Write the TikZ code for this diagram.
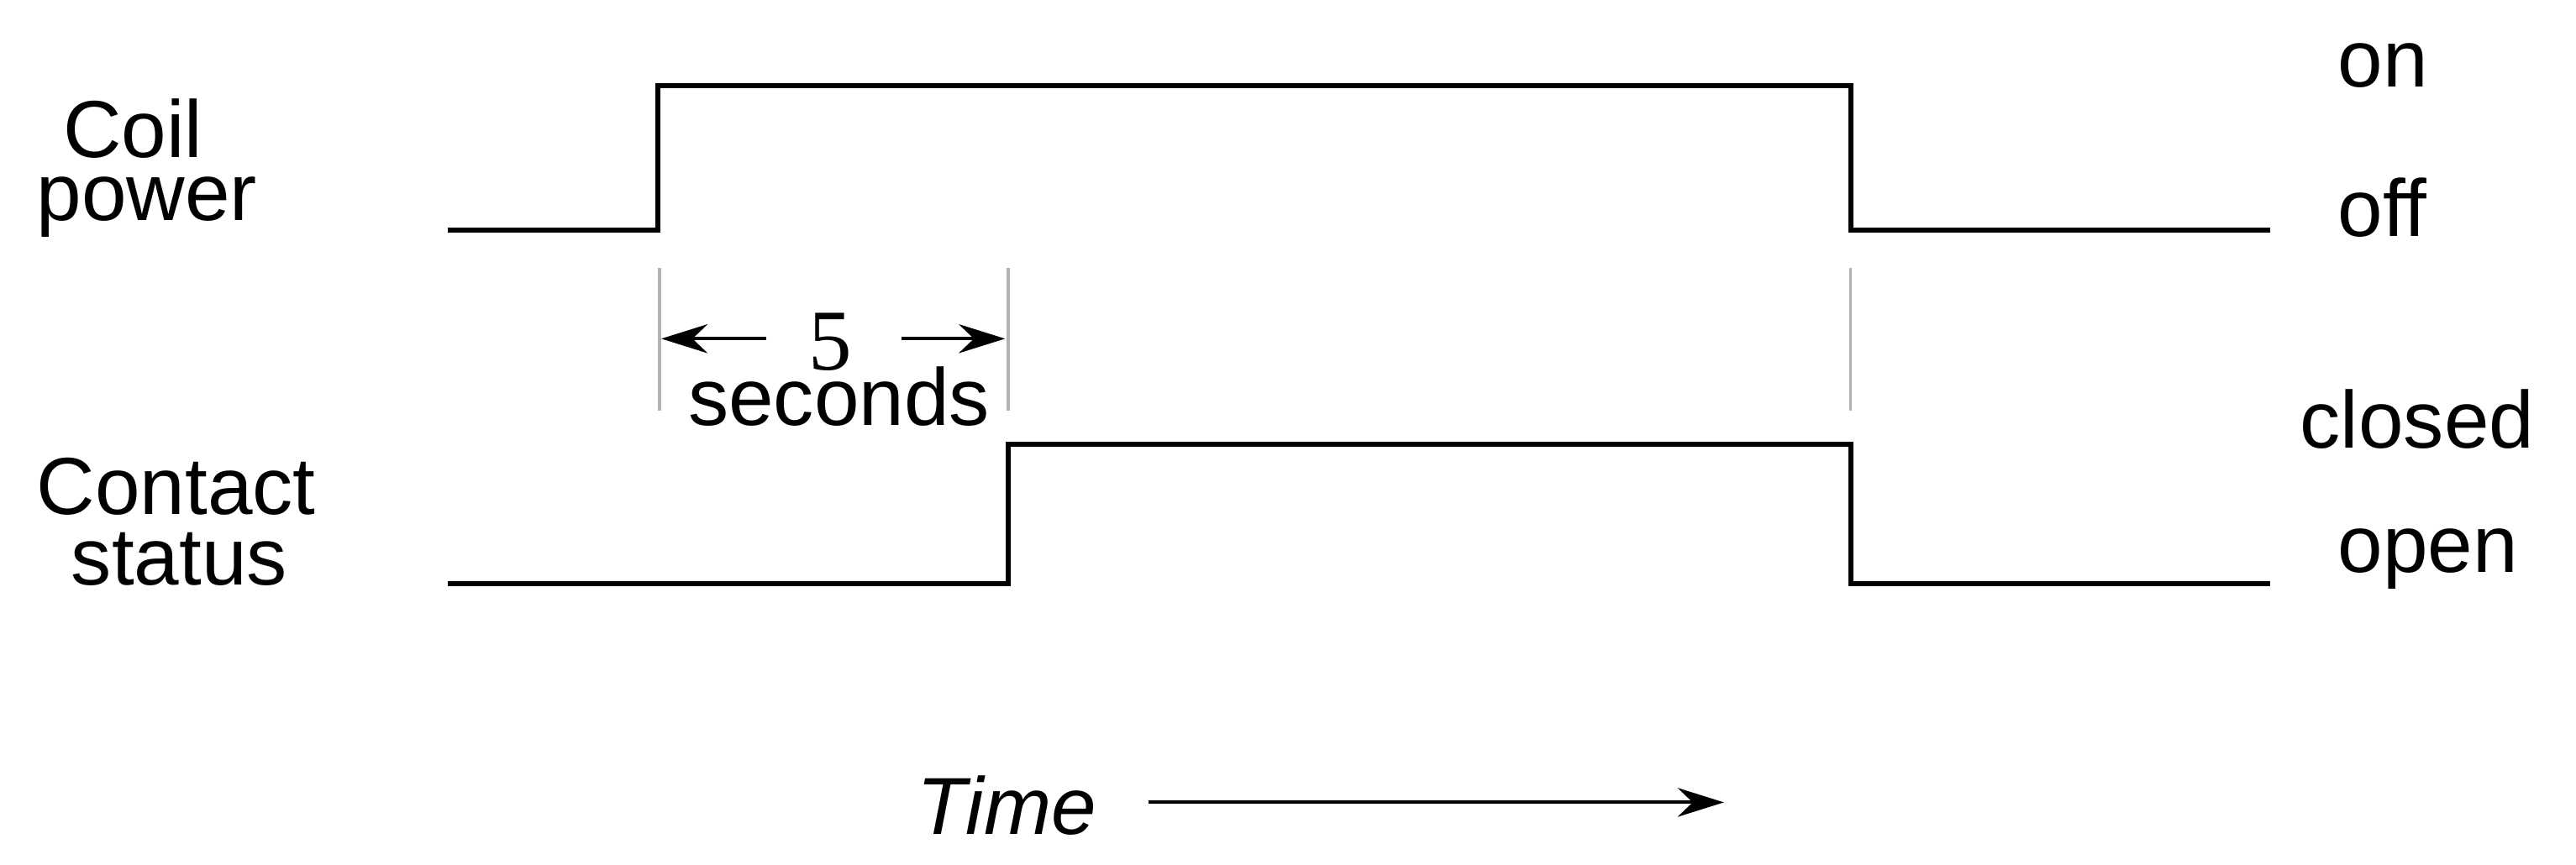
\documentclass[tikz,border=0pt]{standalone}
\usepackage{fontspec}
\setmainfont{Liberation Sans}
\newfontfamily\serifnum{Liberation Serif}
\usetikzlibrary{arrows.meta}
\begin{document}
\begin{tikzpicture}[x=0.02cm,y=-0.02cm,
  sig/.style={line width=1.8pt,line join=miter},
  tick/.style={gray!60,line width=1pt},
  lbl/.style={font=\fontsize{28}{28}\selectfont,inner sep=0},
  arr/.style={line width=1.2pt,-{Stealth[length=16pt,width=10pt]}}]
\useasboundingbox (0,0) rectangle (1566,526);
\draw[sig] (272,140) -- (400,140) -- (400,52) -- (1125,52) -- (1125,140) -- (1380,140);
\draw[sig] (272,355) -- (613,355) -- (613,270) -- (1125,270) -- (1125,355) -- (1380,355);
\coordinate (t1a) at (401,163); \coordinate (t1b) at (401,250);
\coordinate (t2a) at (613,163); \coordinate (t2b) at (613,250);
\coordinate (t3a) at (1125,163); \coordinate (t3b) at (1125,250);
\draw[tick] (t1a) -- (t1b); \draw[tick] (t2a) -- (t2b); \draw[tick] (t3a) -- (t3b);
\node[lbl,font=\serifnum\fontsize{30}{30}\selectfont] (five) at (505,208) {5};
\coordinate (al) at (402,206); \coordinate (ar) at (611,206);
\coordinate (als) at (466,206); \coordinate (ars) at (548,206);
\draw[arr] (als) -- (al); \draw[arr] (ars) -- (ar);
\node[lbl] (sec) at (510,241) {seconds};
\node[lbl,anchor=west] (coil) at (38,78) {Coil};
\node[lbl,anchor=west] (power) at (22,126) {power};
\node[lbl,anchor=west] (contact) at (22,296) {Contact};
\node[lbl,anchor=west] (status) at (43,340) {status};
\node[lbl,anchor=west] (on) at (1421,40) {on};
\node[lbl,anchor=west] (off) at (1421,126) {off};
\node[lbl,anchor=west] (closed) at (1398,255) {closed};
\node[lbl,anchor=west] (open) at (1421,340) {open};
\node[lbl,font=\itshape\fontsize{28}{28}\selectfont] (time) at (612,490) {Time};
\coordinate (te) at (1048,488);
\draw[arr] (698,488) -- (te);
\end{tikzpicture}
\end{document}
